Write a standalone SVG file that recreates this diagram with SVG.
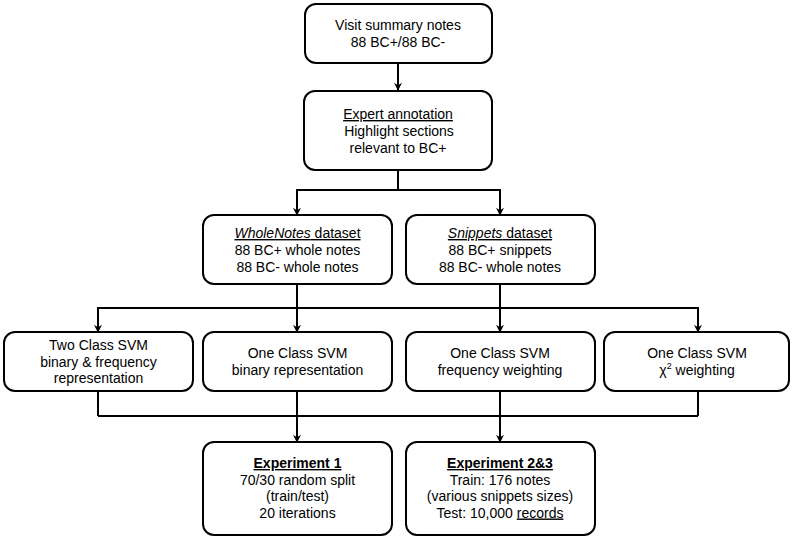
<svg xmlns="http://www.w3.org/2000/svg" width="797" height="540" viewBox="0 0 797 540">
<defs>
<marker id="ah" viewBox="0 0 10 10" refX="9" refY="5" markerWidth="8" markerHeight="8" markerUnits="userSpaceOnUse" orient="auto">
<path d="M0,0 L10,5 L0,10 L3,5 Z" fill="#000"/>
</marker>
<style>
.box{fill:#fff;stroke:#000;stroke-width:2}
.ln{fill:none;stroke:#000;stroke-width:2}
.ar{fill:none;stroke:#000;stroke-width:2;marker-end:url(#ah)}
text{font-family:"Liberation Sans",Arial,sans-serif;font-size:14px;text-anchor:middle;fill:#000}
.b{font-weight:bold}
.u{text-decoration:underline}
</style>
</defs>
<rect width="797" height="540" fill="#fff"/>
<g id="connectors">
<path class="ar" d="M398,63 V90"/>
<path class="ln" d="M398,170 V190 M297,190 H500"/>
<path class="ar" d="M297,189 V215"/>
<path class="ar" d="M500,189 V215"/>
<path class="ln" d="M297,284 V308 M500,284 V308 M98,308 H698"/>
<path class="ar" d="M98,307 V332"/>
<path class="ar" d="M297,307 V332"/>
<path class="ar" d="M500,307 V332"/>
<path class="ar" d="M698,307 V332"/>
<path class="ln" d="M98,391 V416 M297,391 V416 M500,391 V416 M698,391 V416 M98,416 H698"/>
<path class="ar" d="M297,415 V442"/>
<path class="ar" d="M500,415 V442"/>
</g>
<g id="visit">
<rect class="box" x="305" y="4" width="187" height="59" rx="11"/>
<text x="398" y="30">Visit summary notes</text>
<text x="398" y="46.5">88 BC+/88 BC-</text>
</g>
<g id="expert">
<rect class="box" x="304" y="91" width="188" height="79" rx="11"/>
<text x="398" y="119" class="u">Expert annotation</text>
<text x="399" y="136">Highlight sections</text>
<text x="398" y="153">relevant to BC+</text>
</g>
<g id="wholenotes">
<rect class="box" x="203" y="215" width="189" height="69" rx="11"/>
<text x="297.5" y="238" class="u"><tspan font-style="italic">WholeNotes</tspan> dataset</text>
<text x="297.5" y="255">88 BC+ whole notes</text>
<text x="297.5" y="272">88 BC- whole notes</text>
</g>
<g id="snippets">
<rect class="box" x="406" y="215" width="189" height="69" rx="11"/>
<text x="500" y="238" class="u"><tspan font-style="italic">Snippets</tspan> dataset</text>
<text x="500" y="255">88 BC+ snippets</text>
<text x="500" y="272">88 BC- whole notes</text>
</g>
<g id="twoclass">
<rect class="box" x="4" y="332" width="189" height="59" rx="11"/>
<text x="98.5" y="350">Two Class SVM</text>
<text x="98.5" y="366.5">binary &amp; frequency</text>
<text x="98.5" y="383">representation</text>
</g>
<g id="oneclass-binary">
<rect class="box" x="203" y="332" width="189" height="59" rx="11"/>
<text x="297.5" y="358">One Class SVM</text>
<text x="297.5" y="375">binary representation</text>
</g>
<g id="oneclass-freq">
<rect class="box" x="406" y="332" width="189" height="59" rx="11"/>
<text x="500" y="358">One Class SVM</text>
<text x="500" y="375">frequency weighting</text>
</g>
<g id="oneclass-chi">
<rect class="box" x="604" y="332" width="185" height="59" rx="11"/>
<text x="697" y="358">One Class SVM</text>
<text x="697" y="375">χ<tspan font-size="9" dy="-6">2</tspan><tspan dy="6"> weighting</tspan></text>
</g>
<g id="exp1">
<rect class="box" x="203" y="442" width="189" height="93" rx="11"/>
<text x="297.5" y="468" class="b u">Experiment 1</text>
<text x="297.5" y="484.5">70/30 random split</text>
<text x="297.5" y="501">(train/test)</text>
<text x="297.5" y="517.5">20 iterations</text>
</g>
<g id="exp23">
<rect class="box" x="406" y="442" width="189" height="93" rx="11"/>
<text x="500" y="468" class="b u">Experiment 2&amp;3</text>
<text x="500" y="484.5">Train: 176 notes</text>
<text x="500" y="501">(various snippets sizes)</text>
<text x="500" y="517.5">Test: 10,000 <tspan class="u">records</tspan></text>
</g>
</svg>
